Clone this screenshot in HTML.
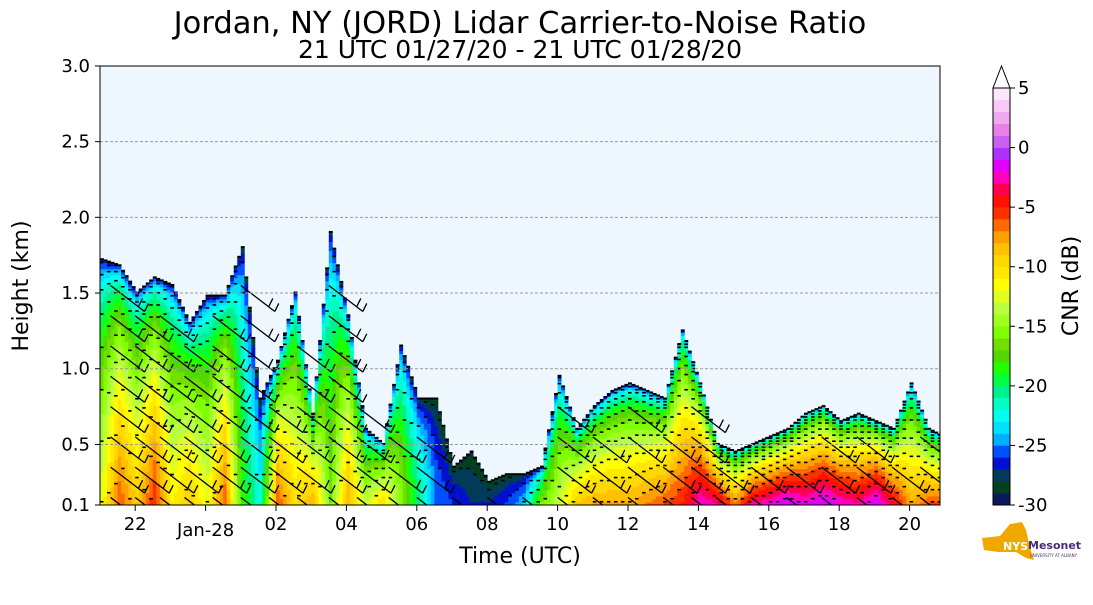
<!DOCTYPE html>
<html><head><meta charset="utf-8">
<style>
body{margin:0;background:#fff;font-family:"Liberation Sans","DejaVu Sans",sans-serif;}
svg text{font-family:"DejaVu Sans","Liberation Sans",sans-serif;}
</style></head>
<body>
<svg id="chart" width="1093" height="600" viewBox="0 0 1093 600" xmlns="http://www.w3.org/2000/svg">
<defs><clipPath id="plotclip"><rect x="100" y="66" width="840" height="439"/></clipPath></defs>
<text x="520" y="33" font-size="30.5" text-anchor="middle">Jordan, NY (JORD) Lidar Carrier-to-Noise Ratio</text>
<text x="520" y="58" font-size="25" text-anchor="middle">21 UTC 01/27/20 - 21 UTC 01/28/20</text>
<rect x="100" y="66" width="840" height="439" fill="#eef6fe"/>
<g clip-path="url(#plotclip)">
<g id="cells"></g>
<g id="contours"></g>
<g id="barbs"></g>
</g>
<g id="grid"></g>
<rect x="100" y="66" width="840" height="439" fill="none" stroke="#000" stroke-width="1"/>
<g id="yaxis"></g>
<g id="xaxis"></g>
<text transform="translate(28,286) rotate(-90)" font-size="22" text-anchor="middle">Height (km)</text>
<text x="520" y="563" font-size="22" text-anchor="middle">Time (UTC)</text>
<g id="cbar"></g>
<text transform="translate(1078,286) rotate(-90)" font-size="22" text-anchor="middle">CNR (dB)</text>
<g>
<path d="M982 538 L1000 536 L1010 524 L1022 522 L1026 530 L1030 548 L1034 560 L1026 558 L1016 552 L998 552 L984 550 Z" fill="#f0a800"/>
<text x="1003" y="550" font-size="11" font-weight="bold" fill="#fff">NYS</text>
<text x="1028" y="549" font-size="11" font-weight="bold" fill="#4a2a7a">Mesonet</text>
<text x="1030" y="557" font-size="4" fill="#4a2a7a">UNIVERSITY AT ALBANY</text>
</g>
</svg>
<script>
// Data (half-hour steps from 21 UTC)
const times=[21,21.5,22,22.5,23,23.5,24,24.5,25,25.5,26,26.5,27,27.5,28,28.5,29,29.5,30,30.5,31,31.5,32,32.5,33,33.5,34,34.5,35,35.5,36,36.5,37,37.5,38,38.5,39,39.5,40,40.5,41,41.5,42,42.5,43,43.5,44,44.5,44.9];
const tops=[1.72,1.68,1.5,1.6,1.55,1.3,1.48,1.48,1.8,0.8,1.05,1.5,0.7,1.9,1.35,0.6,0.5,1.15,0.8,0.8,0.35,0.45,0.25,0.3,0.3,0.35,0.95,0.6,0.75,0.85,0.9,0.85,0.8,1.25,0.9,0.5,0.45,0.5,0.55,0.6,0.7,0.75,0.65,0.7,0.65,0.6,0.9,0.6,0.55];
const peaks=[-12,-6,-9,-5,-11,-9,-12,-6,-18,-22,-6,-10,-8,-16,-8,-13,-10,-15,-20,-25,-26,-27,-27,-26,-24,-16,-13,-9,-8,-8,-8,-7,-6,-5,-2,-3,-7,-3,-2,-1,-2,-1,-2,-3,-1,-4,-8,-6,-6];
const barbTimes=[21.3,22,22.7,23.4,24.2,25,25.8,26.6,27.5,28.3,29.2,30,31,32,33,34,35,36,37,37.8,38.5,39.5,40.5,41.5,42.5,43.5,44.3];
const barbHeights=[0.15,0.35,0.55,0.75,0.95,1.15,1.35,1.55];
const yTicks=[0.1,0.5,1.0,1.5,2.0,2.5,3.0];
const xTicks=[22,24,26,28,30,32,34,36,38,40,42,44];
const xTickLabels=["22","Jan-28","02","04","06","08","10","12","14","16","18","20"];
const cbTicks=[5,0,-5,-10,-15,-20,-25,-30];
const cbColors=["#0a1a5a","#034020","#023a5a","#0010d0","#0050ff","#00b0ff","#00e0ff","#00ffee","#00ffc0","#00f090","#00ff40","#20ff00","#50d800","#70e000","#80ff00","#a0ff20","#b8ff40","#e0ff20","#ffff00","#ffe800","#ffd800","#ffc000","#ffa000","#ff6a00","#ff3000","#ff1000","#ff0050","#ff00c0","#e000ff","#b030ff","#c860f0","#e880e8","#f0a8f0","#f8c8f8","#fce6fc"];

const NS="http://www.w3.org/2000/svg";
const X=t=>100+(t-21)*35.2;
const Y=h=>505-(h-0.1)*151.4;
const CB=v=>505-(v+30)*(417/35);
function mk(tag,attrs,parent){const e=document.createElementNS(NS,tag);for(const k in attrs)e.setAttribute(k,attrs[k]);parent.appendChild(e);return e;}
function interp(arr,t){
  for(let i=0;i<times.length-1;i++){if(t<=times[i+1]){const f=(t-times[i])/(times[i+1]-times[i]);return arr[i]+(arr[i+1]-arr[i])*f;}}
  return arr[arr.length-1];
}
function colorFor(v){let i=Math.floor(v+30);if(i<0)i=0;if(i>34)i=34;return cbColors[i];}
function valAt(t,h){const top=interp(tops,t),pk=interp(peaks,t);if(h>=top)return null;const f=Math.pow(1-(h-0.1)/(top-0.1),0.4);return -30+(pk+30)*f;}
const cells=document.getElementById('cells'),cont=document.getElementById('contours');
const dt=0.1,dh=0.02;
for(let t=21;t<44.9;t+=dt){
  const top=interp(tops,t);
  let runStart=null,runCol=null,lastLvl=null;
  const flush=(hEnd)=>{if(runCol){const r=mk('rect',{x:X(t).toFixed(2),y:Y(hEnd).toFixed(2),width:(dt*35.2+0.4).toFixed(2),height:(Y(runStart)-Y(hEnd)+0.4).toFixed(2),fill:runCol},cells);

}};
  for(let h=0.1;h<top;h+=dh){
    const v=valAt(t,h);
    const c=colorFor(v);
    const lvl=Math.floor((v+30)/2);
    if(lastLvl!==null&&lvl!==lastLvl&&Math.round(t*10)%2===0){
      const l=mk('rect',{x:X(t).toFixed(2),y:(Y(h)-1).toFixed(2),width:(dt*35.2).toFixed(2),height:1.6,fill:'#000'},cont);
      
      
    }
    lastLvl=lvl;
    if(c!==runCol){flush(h);runStart=h;runCol=c;}
  }
  flush(top);
  const e=mk('rect',{x:X(t).toFixed(2),y:(Y(top)-1.5).toFixed(2),width:(dt*35.2+0.4).toFixed(2),height:2,fill:'#000'},cont);
  
  
}
// barbs
const bg=document.getElementById('barbs');
barbTimes.forEach(t=>{const top=interp(tops,t);barbHeights.forEach(h=>{if(h>top-0.1)return;
  const x=X(t),y=Y(h);
  const g=mk('path',{d:`M${x} ${y} L${x+34} ${y+26} M${x+34} ${y+26} L${x+38} ${y+18} M${x+28} ${y+21} L${x+32} ${y+13}`,stroke:'#000','stroke-width':1.3,fill:'none'},bg);
  
  });});
// grid & y axis
const grid=document.getElementById('grid'),ya=document.getElementById('yaxis');
yTicks.forEach(v=>{
  if(v>0.1&&v<3){const g=mk('line',{x1:100,x2:940,y1:Y(v),y2:Y(v),stroke:'#999','stroke-dasharray':'3,2','stroke-width':1},grid);}
  mk('line',{x1:95,x2:100,y1:Y(v),y2:Y(v),stroke:'#000'},ya);
  const tx=mk('text',{x:90,y:Y(v)+6,'font-size':18,'text-anchor':'end'},ya);tx.textContent=v.toFixed(1);
  
  
});
const xa=document.getElementById('xaxis');
xTicks.forEach((t,i)=>{
  mk('line',{x1:X(t),x2:X(t),y1:505,y2:511,stroke:'#000'},xa);
  const tx=mk('text',{x:X(t),y:i==1?536:530,'font-size':18,'text-anchor':'middle'},xa);tx.textContent=xTickLabels[i];
  
  
});
// colorbar
const cb=document.getElementById('cbar');
cbColors.forEach((c,i)=>{const r=mk('rect',{x:993,y:CB(i-29),width:17,height:417/35+0.3,fill:c},cb);

});
mk('path',{d:`M993 88 L1001.5 66 L1010 88 Z`,fill:'#fff',stroke:'#000'},cb);
mk('rect',{x:993,y:88,width:17,height:417,fill:'none',stroke:'#000'},cb);
cbTicks.forEach(v=>{mk('line',{x1:1010,x2:1015,y1:CB(v),y2:CB(v),stroke:'#000'},cb);
const tx=mk('text',{x:1018,y:CB(v)+6,'font-size':18},cb);tx.textContent=String(v);

});
</script>
</body></html>
